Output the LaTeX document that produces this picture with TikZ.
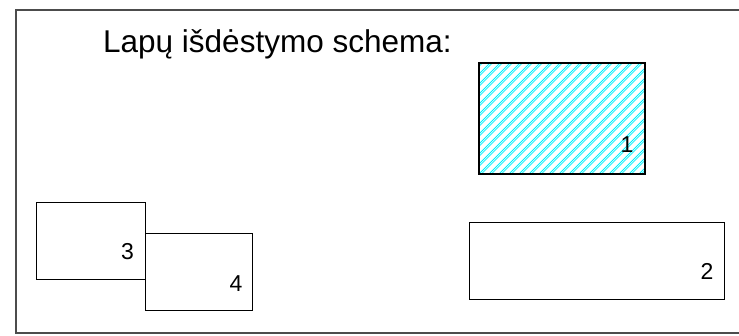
\documentclass[tikz,border=0pt]{standalone}
\usepackage{fontspec}
\setmainfont{Liberation Sans}
\definecolor{hatchcyan}{RGB}{0,240,250}
\usetikzlibrary{positioning,calc}

\begin{document}
\begin{tikzpicture}[
  x=1pt, y=-1pt,
  frame/.style={draw=black!70, line width=1.6pt},
  sheet/.style={draw, line width=0.8pt, inner sep=0pt, outer sep=0pt},
  hatched/.style={line width=2pt, path picture={
      \foreach \k in {-130,-120,...,180}{
        \draw[hatchcyan, line width=0.8pt]
          ($(path picture bounding box.south west)+(\k,0)$) -- ++(125,-125);
        \draw[hatchcyan, line width=0.8pt]
          ($(path picture bounding box.south west)+(\k+2.4,0)$) -- ++(125,-125);
      }}},
  num/.style={font=\fontsize{23}{27}\selectfont, inner sep=0pt},
  title/.style={font=\fontsize{31.5}{36}\selectfont, inner sep=0pt, anchor=base west}
]
\useasboundingbox (0,0) rectangle (739,335);
\draw[frame] (739,10) -- (16,10) -- (16,333) -- (739,333);

\node[title] (head) at (103,52.7) {Lapų išdėstymo schema:};

% sheets
\node[sheet, hatched, minimum width=166pt, minimum height=111pt] (s1) at (562,118.5) {};
\node[sheet, minimum width=255pt, minimum height=77pt] (s2) at (596.5,260.5) {};
\node[sheet, minimum width=109pt, minimum height=77pt] (s3) at (90.5,240.5) {};
\node[sheet, minimum width=107pt, minimum height=77pt, right=0pt of s3, yshift=-31pt] (s4) {};

% numbers
\node[num] (n1) at ($(s1.south east)+(-18,-29)$) {1};
\node[num] (n2) at ($(s2.south east)+(-17,-28)$) {2};
\node[num] (n3) at ($(s3.south east)+(-17.5,-27.5)$) {3};
\node[num] (n4) at ($(s4.south east)+(-16,-26.5)$) {4};
\end{tikzpicture}
\end{document}
